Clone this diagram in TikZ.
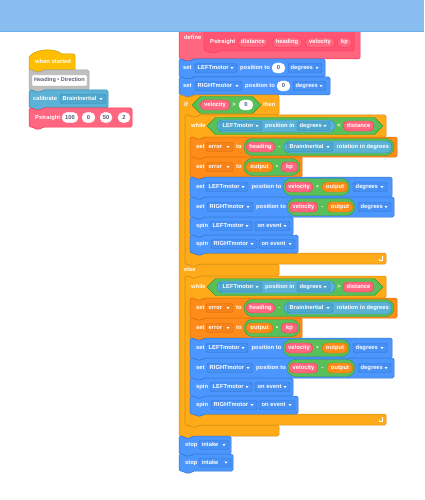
\documentclass[tikz,border=0pt]{standalone}
\usepackage{fontspec}
\setmainfont{Liberation Sans}
\usetikzlibrary{arrows.meta}
\definecolor{ctl}{HTML}{FFAB19}\definecolor{ctlb}{HTML}{CF8B17}
\definecolor{evt}{HTML}{FFBF00}\definecolor{evtb}{HTML}{CC9900}
\definecolor{mot}{HTML}{4C97FF}\definecolor{motb}{HTML}{3373CC}\definecolor{motd}{HTML}{4690F5}
\definecolor{sen}{HTML}{5CB1D6}\definecolor{senb}{HTML}{2E8EB8}\definecolor{send}{HTML}{4FA6CE}
\definecolor{opr}{HTML}{59C059}\definecolor{oprb}{HTML}{389438}
\definecolor{var}{HTML}{FF8C1A}\definecolor{varb}{HTML}{DB6E00}\definecolor{vard}{HTML}{F5821A}
\definecolor{myb}{HTML}{FF6680}\definecolor{mybb}{HTML}{FF3355}\definecolor{mybd}{HTML}{FF5573}
\definecolor{cmt}{HTML}{BFBFBF}\definecolor{cmtb}{HTML}{A6A6A6}
\definecolor{inp}{HTML}{575E75}
\definecolor{topbar}{HTML}{89BDF0}\definecolor{topline}{HTML}{6EAEEE}
% stack block: fill border x1 y1 x2 y2
\newcommand\stk[6]{\draw[fill=#1,draw=#2,blk] (#3,#4) -- ({#3+4},#4) -- ({#3+6},{#4+2}) -- ({#3+12},{#4+2}) -- ({#3+14},#4) -- (#5,#4) -- (#5,#6) -- ({#3+14},#6) -- ({#3+12},{#6+2}) -- ({#3+6},{#6+2}) -- ({#3+4},#6) -- (#3,#6) -- cycle;}
\newcommand\tx[3]{\node[txt] at (#1,#2) {#3};}
\newcommand\tc[3]{\node[txt,anchor=center] at (#1,#2) {#3};}
% dropdown: x1 x2 ym text fill border
\newcommand\dd[6]{\draw[fill=#5,draw=#6,line width=0.4pt,rounded corners=1.5pt] (#1,{#3-4.5}) rectangle (#2,{#3+4.5});
 \node[txt] at ({#1+2.5},#3) {#4};
 \fill[white] ({#2-6.5},{#3-0.9}) -- ({#2-3.5},{#3-0.9}) -- ({#2-5},{#3+1}) -- cycle;}
% oval: x1 x2 ym text fill border textcolour
\newcommand\ov[7]{\draw[fill=#5,draw=#6,line width=0.4pt,rounded corners=4.9pt] (#1,{#3-5}) rectangle (#2,{#3+5});
 \node[txt,anchor=center,text=#7] at ({(#1+#2)/2},#3) {#4};}
% pill: x1 x2 ytop ybot fill border radius
\newcommand\pill[7]{\draw[fill=#5,draw=#6,line width=0.4pt,rounded corners=#7] (#1,#3) rectangle (#2,#4);}
% hexagon: x1 x2 ym half
\newcommand\hex[4]{\draw[fill=opr,draw=oprb,line width=0.4pt,line join=round] (#1,#3) -- ({#1+#4},{#3-#4}) -- ({#2-#4},{#3-#4}) -- (#2,#3) -- ({#2-#4},{#3+#4}) -- ({#1+#4},{#3+#4}) -- cycle;}
% while section: T comparator
\newcommand\loopsec[2]{%
 \draw[fill=ctl,draw=ctlb,blk] (185,#1) -- (189,#1) -- (191,{#1+2}) -- (197,{#1+2}) -- (199,#1) -- (386,#1) -- (386,{#1+22}) -- (204,{#1+22}) -- (202,{#1+24}) -- (196,{#1+24}) -- (194,{#1+22}) -- (190,{#1+22}) -- (190,{#1+138}) -- (386,{#1+138}) -- (386,{#1+149}) -- (199,{#1+149}) -- (197,{#1+151}) -- (191,{#1+151}) -- (189,{#1+149}) -- (185,{#1+149}) -- cycle;
 \tx{191}{#1+11}{while}
 \hex{207}{383}{#1+11}{8.5}
 \pill{217}{335}{#1+5}{#1+17}{sen}{senb}{5.9pt}
 \dd{220}{262}{#1+11}{LEFTmotor}{send}{senb}
 \tx{265}{#1+11}{position in}
 \dd{297}{330}{#1+11}{degrees}{send}{senb}
 \tc{339}{#1+11}{#2}
 \ov{343}{374}{#1+11}{distance}{myb}{mybb}{white}
 % set error to heading - rotation
 \stk{var}{varb}{190}{#1+22}{397}{#1+42}
 \tx{196}{#1+32}{set}
 \dd{206}{233}{#1+32}{error}{vard}{varb}
 \tx{236}{#1+32}{to}
 \pill{244}{394}{#1+23.5}{#1+40.5}{opr}{oprb}{8.4pt}
 \ov{246}{275}{#1+32}{heading}{myb}{mybb}{white}
 \tc{279.5}{#1+32}{-}
 \pill{284}{392}{#1+26}{#1+38}{sen}{senb}{5.9pt}
 \dd{287}{333}{#1+32}{BrainInertial}{send}{senb}
 \tx{336.5}{#1+32}{rotation in degrees}
 % set error to output * kp
 \stk{var}{varb}{190}{#1+42}{302}{#1+62}
 \tx{196}{#1+52}{set}
 \dd{206}{233}{#1+52}{error}{vard}{varb}
 \tx{236}{#1+52}{to}
 \pill{244}{300}{#1+43.5}{#1+60.5}{opr}{oprb}{8.4pt}
 \ov{246}{273}{#1+52}{output}{var}{varb}{white}
 \tc{277}{#1+52.5}{*}
 \ov{281}{298}{#1+52}{kp}{myb}{mybb}{white}
 % set LEFTmotor
 \stk{mot}{motb}{190}{#1+62}{392}{#1+82}
 \tx{196}{#1+72}{set}
 \dd{206}{248}{#1+72}{LEFTmotor}{motd}{motb}
 \tx{251.5}{#1+72}{position to}
 \pill{283}{350}{#1+63.5}{#1+80.5}{opr}{oprb}{8.4pt}
 \ov{285}{313}{#1+72}{velocity}{myb}{mybb}{white}
 \tc{317.5}{#1+72.5}{*}
 \ov{322}{348}{#1+72}{output}{var}{varb}{white}
 \dd{353}{387}{#1+72}{degrees}{motd}{motb}
 % set RIGHTmotor
 \stk{mot}{motb}{190}{#1+82}{394}{#1+102}
 \tx{196}{#1+92}{set}
 \dd{207}{253}{#1+92}{RIGHTmotor}{motd}{motb}
 \tx{256}{#1+92}{position to}
 \pill{287}{355}{#1+83.5}{#1+100.5}{opr}{oprb}{8.4pt}
 \ov{289}{318}{#1+92}{velocity}{myb}{mybb}{white}
 \tc{322.5}{#1+92}{-}
 \ov{327}{353}{#1+92}{output}{var}{varb}{white}
 \dd{358}{391}{#1+92}{degrees}{motd}{motb}
 % spin LEFTmotor
 \stk{mot}{motb}{190}{#1+102}{293}{#1+120}
 \tx{196}{#1+111}{spin}
 \dd{210}{252}{#1+111}{LEFTmotor}{motd}{motb}
 \dd{255}{290}{#1+111}{on event}{motd}{motb}
 % spin RIGHTmotor
 \stk{mot}{motb}{190}{#1+120}{298}{#1+138}
 \tx{196}{#1+129}{spin}
 \dd{211}{257}{#1+129}{RIGHTmotor}{motd}{motb}
 \dd{259}{295}{#1+129}{on event}{motd}{motb}
 % loop arrow
 \draw[white,line width=0.6pt,-{Stealth[length=1.6pt,width=2.2pt]}] (382,{#1+141}) -- (382,{#1+145}) -- (378.5,{#1+145});
}
\begin{document}
\begin{tikzpicture}[x=1pt,y=-1pt,
  blk/.style={line width=0.5pt,rounded corners=1.5pt},
  txt/.style={font=\fontsize{5.8}{6}\selectfont\bfseries,text=white,inner sep=0pt,anchor=west,text height=4.2pt,text depth=1.2pt}]
\useasboundingbox (0,0) rectangle (424,500);
\fill[white] (0,0) rectangle (424,500);
% ---------- left script ----------
\draw[fill=evt,draw=evtb,line width=0.5pt] (29,70) -- (29,57) .. controls (36,48) and (55,48) .. (62,54) -- (73,54) .. controls (74.5,54) and (75,54.5) .. (75,56) -- (75,70) -- (43,70) -- (41,72) -- (35,72) -- (33,70) -- cycle;
\tx{35}{62.5}{when started}
\stk{cmt}{cmtb}{29}{70}{89}{90}
\draw[fill=white,draw=cmtb,line width=0.3pt,rounded corners=1pt] (32,75) rectangle (87,86);
\node[txt,text=inp,font=\fontsize{5.5}{6}\selectfont\bfseries] at (34,80.5) {Heading • Direction};
\stk{sen}{senb}{29}{90}{108}{108}
\tx{33}{99}{calibrate}
\dd{60}{106}{99}{BrainInertial}{send}{senb}
\stk{myb}{mybb}{29}{108}{132}{127}
\tx{35}{117.5}{Pstraight}
\ov{62}{78}{117.5}{100}{white}{white}{inp}
\ov{82}{95}{117.5}{0}{white}{white}{inp}
\ov{100}{112}{117.5}{50}{white}{white}{inp}
\ov{118}{130}{117.5}{2}{white}{white}{inp}
% ---------- right script ----------
\draw[fill=myb,draw=mybb,blk] (179,18) -- (360,18) -- (360,59) -- (193,59) -- (191,61) -- (185,61) -- (183,59) -- (179,59) -- cycle;
\tx{184}{38}{define}
\stk{mybd}{mybb}{204}{30}{354}{51}
\tx{210}{42.5}{Pstraight}
\ov{238}{268}{42.5}{distance}{myb}{mybb}{white}
\ov{272}{302}{42.5}{heading}{myb}{mybb}{white}
\ov{305}{335}{42.5}{velocity}{myb}{mybb}{white}
\ov{337}{352}{42.5}{kp}{myb}{mybb}{white}
\stk{mot}{motb}{179}{59}{325}{77}
\tx{183}{68}{set}
\dd{195}{237}{68}{LEFTmotor}{motd}{motb}
\tx{240}{68}{position to}
\ov{272}{285}{68}{0}{white}{white}{inp}
\dd{288}{322}{68}{degrees}{motd}{motb}
\stk{mot}{motb}{179}{77}{330}{95}
\tx{183}{86}{set}
\dd{195}{242}{86}{RIGHTmotor}{motd}{motb}
\tx{245}{86}{position to}
\ov{277}{290}{86}{0}{white}{white}{inp}
\dd{293}{326}{86}{degrees}{motd}{motb}
% if / else
\draw[fill=ctl,draw=ctlb,blk] (179,95) -- (183,95) -- (185,97) -- (191,97) -- (193,95) -- (279,95) -- (279,115) -- (199,115) -- (197,117) -- (191,117) -- (189,115) -- (185,115) -- (185,264) -- (279,264) -- (279,276) -- (199,276) -- (197,278) -- (191,278) -- (189,276) -- (185,276) -- (185,425) -- (279,425) -- (279,436) -- (193,436) -- (191,438) -- (185,438) -- (183,436) -- (179,436) -- cycle;
\tx{184}{105}{if}
\hex{192}{261}{105}{8.5}
\ov{200}{230}{105}{velocity}{myb}{mybb}{white}
\tc{234}{105}{>}
\ov{239}{253}{105}{0}{white}{white}{inp}
\tx{263}{105}{then}
\tx{184}{270}{else}
\loopsec{115}{<}
\loopsec{276}{>}
\stk{mot}{motb}{179}{436}{231}{454}
\tx{185}{445}{stop}
\dd{199}{229}{445}{intake}{motd}{motb}
\stk{mot}{motb}{179}{454}{233}{471}
\tx{185}{462.5}{stop}
\dd{199}{231}{462.5}{intake}{motd}{motb}
% top bar
\fill[topbar] (0,0) rectangle (424,31);
\draw[topline,line width=1pt] (0,31.5) -- (424,31.5);
\end{tikzpicture}
\end{document}
